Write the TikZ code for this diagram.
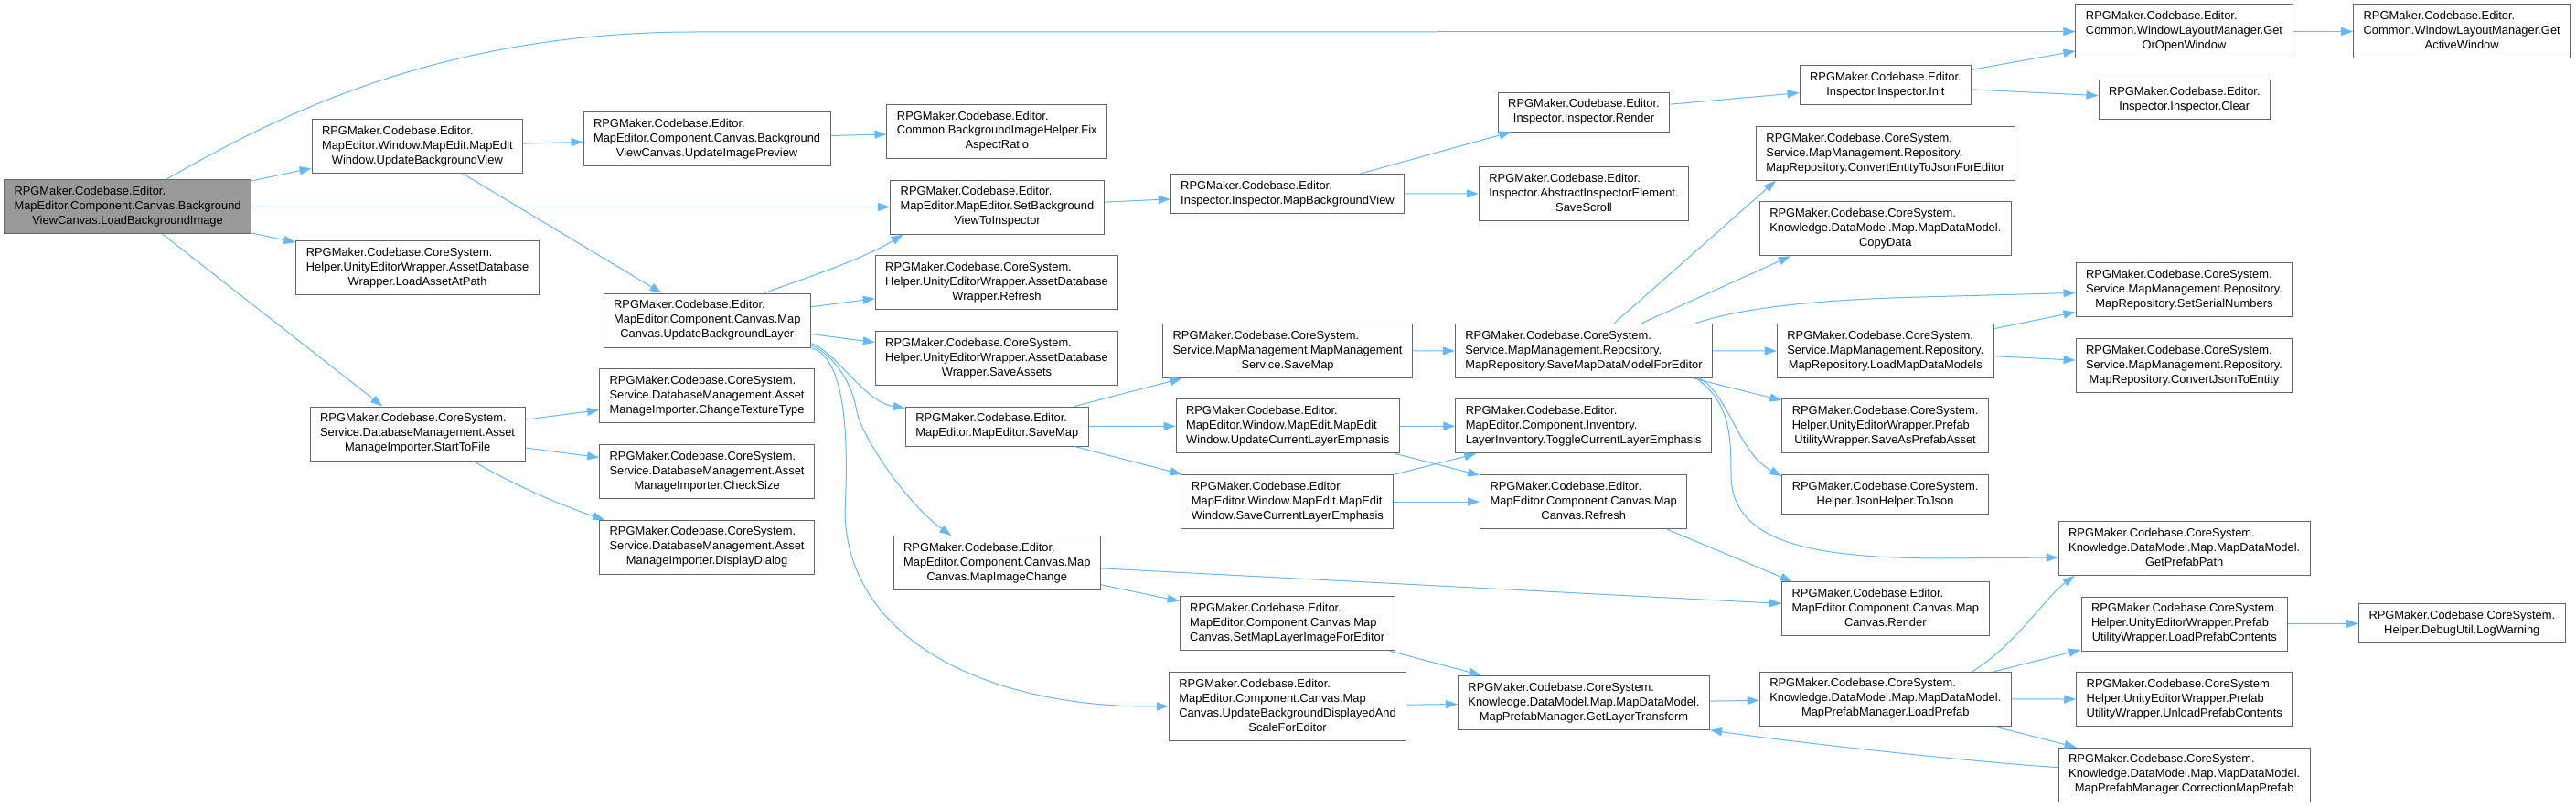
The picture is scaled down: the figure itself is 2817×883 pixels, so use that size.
\documentclass[tikz,border=0pt]{standalone}
\usepackage{fontspec}
\setmainfont{Liberation Sans}
\usepackage{tikz}
\usetikzlibrary{arrows.meta}
\definecolor{callc}{HTML}{63B8FF}
\definecolor{boxline}{HTML}{666666}
\definecolor{rootfill}{HTML}{999999}
% label: left-aligned lines, last line centred
\newcommand{\fnlabel}[2]{\begin{tabular}{@{}l@{}}#1\\\multicolumn{1}{@{}c@{}}{#2}\end{tabular}}
\tikzset{
  fn/.style={draw=boxline, line width=1pt, fill=white, inner xsep=11pt, inner ysep=5.5pt,
    font=\fontsize{12.9}{16}\selectfont},
  rootfn/.style={fn, fill=rootfill},
  call/.style={-{Triangle[length=13pt, width=9pt]}, draw=callc, line width=1pt},
}

\begin{document}
\begin{tikzpicture}[x=1pt, y=-1pt]
  \path[use as bounding box, fill=white] (0,0) rectangle (2817,883);
  % column 0
  \node[rootfn] (loadBgImage) at (139.6,226.3) {\fnlabel{RPGMaker.Codebase.Editor.\\MapEditor.Component.Canvas.Background}{ViewCanvas.LoadBackgroundImage}};
  % column 1
  \node[fn] (updBgView) at (456.4,160) {\fnlabel{RPGMaker.Codebase.Editor.\\MapEditor.Window.MapEdit.MapEdit}{Window.UpdateBackgroundView}};
  \node[fn] (loadAsset) at (456.6,293.3) {\fnlabel{RPGMaker.Codebase.CoreSystem.\\Helper.UnityEditorWrapper.AssetDatabase}{Wrapper.LoadAssetAtPath}};
  \node[fn] (startToFile) at (456.6,474.5) {\fnlabel{RPGMaker.Codebase.CoreSystem.\\Service.DatabaseManagement.Asset}{ManageImporter.StartToFile}};
  % column 2
  \node[fn] (updImgPreview) at (773.1,152) {\fnlabel{RPGMaker.Codebase.Editor.\\MapEditor.Component.Canvas.Background}{ViewCanvas.UpdateImagePreview}};
  \node[fn] (updBgLayer) at (773.3,350.7) {\fnlabel{RPGMaker.Codebase.Editor.\\MapEditor.Component.Canvas.Map}{Canvas.UpdateBackgroundLayer}};
  \node[fn] (changeTexture) at (773.1,433.3) {\fnlabel{RPGMaker.Codebase.CoreSystem.\\Service.DatabaseManagement.Asset}{ManageImporter.ChangeTextureType}};
  \node[fn] (checkSize) at (773.1,516) {\fnlabel{RPGMaker.Codebase.CoreSystem.\\Service.DatabaseManagement.Asset}{ManageImporter.CheckSize}};
  \node[fn] (displayDialog) at (773.1,598.7) {\fnlabel{RPGMaker.Codebase.CoreSystem.\\Service.DatabaseManagement.Asset}{ManageImporter.DisplayDialog}};
  % column 3
  \node[fn] (fixAspect) at (1090.3,143.8) {\fnlabel{RPGMaker.Codebase.Editor.\\Common.BackgroundImageHelper.Fix}{AspectRatio}};
  \node[fn] (setBgInspector) at (1090.5,226.5) {\fnlabel{RPGMaker.Codebase.Editor.\\MapEditor.MapEditor.SetBackground}{ViewToInspector}};
  \node[fn] (dbRefresh) at (1090,309.3) {\fnlabel{RPGMaker.Codebase.CoreSystem.\\Helper.UnityEditorWrapper.AssetDatabase}{Wrapper.Refresh}};
  \node[fn] (dbSaveAssets) at (1090,391.8) {\fnlabel{RPGMaker.Codebase.CoreSystem.\\Helper.UnityEditorWrapper.AssetDatabase}{Wrapper.SaveAssets}};
  \node[fn] (editorSaveMap) at (1090.3,466.5) {\fnlabel{RPGMaker.Codebase.Editor.}{MapEditor.MapEditor.SaveMap}};
  \node[fn] (mapImgChange) at (1090.3,616) {\fnlabel{RPGMaker.Codebase.Editor.\\MapEditor.Component.Canvas.Map}{Canvas.MapImageChange}};
  % column 4
  \node[fn] (mapBgView) at (1408,212) {\fnlabel{RPGMaker.Codebase.Editor.}{Inspector.Inspector.MapBackgroundView}};
  \node[fn] (serviceSaveMap) at (1408.1,384) {\fnlabel{RPGMaker.Codebase.CoreSystem.\\Service.MapManagement.MapManagement}{Service.SaveMap}};
  \node[fn] (updLayerEmph) at (1408.2,466.3) {\fnlabel{RPGMaker.Codebase.Editor.\\MapEditor.Window.MapEdit.MapEdit}{Window.UpdateCurrentLayerEmphasis}};
  \node[fn] (saveLayerEmph) at (1407.9,549) {\fnlabel{RPGMaker.Codebase.Editor.\\MapEditor.Window.MapEdit.MapEdit}{Window.SaveCurrentLayerEmphasis}};
  \node[fn] (setLayerImg) at (1407.7,682.3) {\fnlabel{RPGMaker.Codebase.Editor.\\MapEditor.Component.Canvas.Map}{Canvas.SetMapLayerImageForEditor}};
  \node[fn] (updBgDisplayed) at (1408.1,772.8) {\fnlabel{RPGMaker.Codebase.Editor.\\MapEditor.Component.Canvas.Map\\Canvas.UpdateBackgroundDisplayedAnd}{ScaleForEditor}};
  % column 5
  \node[fn] (inspRender) at (1732,122.5) {\fnlabel{RPGMaker.Codebase.Editor.}{Inspector.Inspector.Render}};
  \node[fn] (saveScroll) at (1732,211.8) {\fnlabel{RPGMaker.Codebase.Editor.\\Inspector.AbstractInspectorElement.}{SaveScroll}};
  \node[fn] (saveMapData) at (1732,383.8) {\fnlabel{RPGMaker.Codebase.CoreSystem.\\Service.MapManagement.Repository.}{MapRepository.SaveMapDataModelForEditor}};
  \node[fn] (toggleEmph) at (1731.7,466.3) {\fnlabel{RPGMaker.Codebase.Editor.\\MapEditor.Component.Inventory.}{LayerInventory.ToggleCurrentLayerEmphasis}};
  \node[fn] (canvasRefresh) at (1731.7,549) {\fnlabel{RPGMaker.Codebase.Editor.\\MapEditor.Component.Canvas.Map}{Canvas.Refresh}};
  \node[fn] (getLayerTf) at (1732,768.8) {\fnlabel{RPGMaker.Codebase.CoreSystem.\\Knowledge.DataModel.Map.MapDataModel.}{MapPrefabManager.GetLayerTransform}};
  % column 6
  \node[fn] (inspInit) at (2061.9,93.3) {\fnlabel{RPGMaker.Codebase.Editor.}{Inspector.Inspector.Init}};
  \node[fn] (entityToJson) at (2061.8,167.8) {\fnlabel{RPGMaker.Codebase.CoreSystem.\\Service.MapManagement.Repository.}{MapRepository.ConvertEntityToJsonForEditor}};
  \node[fn] (copyData) at (2061.8,250.3) {\fnlabel{RPGMaker.Codebase.CoreSystem.\\Knowledge.DataModel.Map.MapDataModel.}{CopyData}};
  \node[fn] (loadMapData) at (2061.8,384) {\fnlabel{RPGMaker.Codebase.CoreSystem.\\Service.MapManagement.Repository.}{MapRepository.LoadMapDataModels}};
  \node[fn] (saveAsPrefab) at (2061.6,466.3) {\fnlabel{RPGMaker.Codebase.CoreSystem.\\Helper.UnityEditorWrapper.Prefab}{UtilityWrapper.SaveAsPrefabAsset}};
  \node[fn] (toJson) at (2061.6,541) {\fnlabel{RPGMaker.Codebase.CoreSystem.}{Helper.JsonHelper.ToJson}};
  \node[fn] (canvasRender) at (2061.8,666.3) {\fnlabel{RPGMaker.Codebase.Editor.\\MapEditor.Component.Canvas.Map}{Canvas.Render}};
  \node[fn] (loadPrefab) at (2061.8,764.7) {\fnlabel{RPGMaker.Codebase.CoreSystem.\\Knowledge.DataModel.Map.MapDataModel.}{MapPrefabManager.LoadPrefab}};
  % column 7
  \node[fn] (getOrOpen) at (2388.5,34.5) {\fnlabel{RPGMaker.Codebase.Editor.\\Common.WindowLayoutManager.Get}{OrOpenWindow}};
  \node[fn] (inspClear) at (2388.8,109.2) {\fnlabel{RPGMaker.Codebase.Editor.}{Inspector.Inspector.Clear}};
  \node[fn] (setSerial) at (2388.5,317.2) {\fnlabel{RPGMaker.Codebase.CoreSystem.\\Service.MapManagement.Repository.}{MapRepository.SetSerialNumbers}};
  \node[fn] (jsonToEntity) at (2388.5,399.8) {\fnlabel{RPGMaker.Codebase.CoreSystem.\\Service.MapManagement.Repository.}{MapRepository.ConvertJsonToEntity}};
  \node[fn] (getPrefabPath) at (2388.7,600) {\fnlabel{RPGMaker.Codebase.CoreSystem.\\Knowledge.DataModel.Map.MapDataModel.}{GetPrefabPath}};
  \node[fn] (loadPrefabCont) at (2388.8,682.5) {\fnlabel{RPGMaker.Codebase.CoreSystem.\\Helper.UnityEditorWrapper.Prefab}{UtilityWrapper.LoadPrefabContents}};
  \node[fn] (unloadPrefabCont) at (2388.8,765.2) {\fnlabel{RPGMaker.Codebase.CoreSystem.\\Helper.UnityEditorWrapper.Prefab}{UtilityWrapper.UnloadPrefabContents}};
  \node[fn] (correctPrefab) at (2388.7,847.7) {\fnlabel{RPGMaker.Codebase.CoreSystem.\\Knowledge.DataModel.Map.MapDataModel.}{MapPrefabManager.CorrectionMapPrefab}};
  % column 8
  \node[fn] (getActive) at (2692.2,34.5) {\fnlabel{RPGMaker.Codebase.Editor.\\Common.WindowLayoutManager.Get}{ActiveWindow}};
  \node[fn] (logWarning) at (2692.3,682.3) {\fnlabel{RPGMaker.Codebase.CoreSystem.}{Helper.DebugUtil.LogWarning}};

  % calls from the root
  \draw[call] ([xshift=42]loadBgImage.north) .. controls (290,135) and (470,35) .. (760,35) -- (getOrOpen);
  \draw[call] (loadBgImage) -- (updBgView);
  \draw[call] (loadBgImage) -- (setBgInspector);
  \draw[call] (loadBgImage) -- (loadAsset);
  \draw[call] (loadBgImage) -- (startToFile);
  % background view / layer
  \draw[call] (updBgView) -- (updImgPreview);
  \draw[call] (updBgView) -- (updBgLayer);
  \draw[call] (updImgPreview) -- (fixAspect);
  \draw[call] ([xshift=62]updBgLayer.north) .. controls (885,303) and (945,283) .. ([xshift=-103]setBgInspector.south);
  \draw[call] (updBgLayer) -- (dbRefresh);
  \draw[call] (updBgLayer) -- (dbSaveAssets);
  \draw[call] ([yshift=5]updBgLayer.south east) .. controls (915,385) and (945,440) .. ([yshift=-2]editorSaveMap.north west);
  \draw[call] ([yshift=3]updBgLayer.south east) .. controls (905,385) and (930,410) .. (937,450)
    .. controls (941,475) and (990,550) .. ([xshift=-50]mapImgChange.north);
  \draw[call] (updBgLayer.south east) .. controls (925,390) and (928,480) .. (924,560)
    .. controls (926,700) and (1080,775) .. (updBgDisplayed.west);
  % importer
  \draw[call] (startToFile) -- (changeTexture);
  \draw[call] (startToFile) -- (checkSize);
  \draw[call] ([xshift=61]startToFile.south) .. controls (555,527) and (610,552) .. ([xshift=-112]displayDialog.north);
  % inspector
  \draw[call] (setBgInspector) -- (mapBgView);
  \draw[call] (mapBgView) -- (inspRender);
  \draw[call] (mapBgView) -- (saveScroll);
  \draw[call] (inspRender) -- (inspInit);
  \draw[call] (inspInit) -- (getOrOpen);
  \draw[call] (inspInit) -- (inspClear);
  \draw[call] (getOrOpen) -- (getActive);
  % save map
  \draw[call] (editorSaveMap) -- (serviceSaveMap);
  \draw[call] (editorSaveMap) -- (updLayerEmph);
  \draw[call] (editorSaveMap) -- (saveLayerEmph);
  \draw[call] (serviceSaveMap) -- (saveMapData);
  \draw[call] ([xshift=33]saveMapData.north) -- ([xshift=-120]entityToJson.south);
  \draw[call] ([xshift=63]saveMapData.north) -- ([xshift=-104]copyData.south);
  \draw[call] ([xshift=122]saveMapData.north) .. controls (1900,338) and (1980,328) .. (2100,325) -- (setSerial);
  \draw[call] (saveMapData) -- (loadMapData);
  \draw[call] (saveMapData) -- (saveAsPrefab);
  \draw[call] ([xshift=126]saveMapData.south) .. controls (1890,430) and (1900,495) .. ([yshift=-2]toJson.north west);
  \draw[call] ([xshift=123]saveMapData.south) .. controls (1890,440) and (1893,470) .. (1893,520)
    .. controls (1893,600) and (2000,610) .. (2120,611) -- ([yshift=-10]getPrefabPath.west);
  \draw[call] (loadMapData) -- (setSerial);
  \draw[call] (loadMapData) -- (jsonToEntity);
  % layer emphasis and canvas
  \draw[call] (updLayerEmph) -- (toggleEmph);
  \draw[call] (updLayerEmph) -- (canvasRefresh);
  \draw[call] (saveLayerEmph) -- (toggleEmph);
  \draw[call] (saveLayerEmph) -- (canvasRefresh);
  \draw[call] ([xshift=91]canvasRefresh.south) -- ([xshift=-102]canvasRender.north);
  \draw[call] (mapImgChange) -- (canvasRender);
  \draw[call] (mapImgChange) -- (setLayerImg);
  % prefabs
  \draw[call] (setLayerImg) -- (getLayerTf);
  \draw[call] (updBgDisplayed) -- (getLayerTf);
  \draw[call] (getLayerTf) -- (loadPrefab);
  \draw[call] ([xshift=95]loadPrefab.north) .. controls (2205,705) and (2235,655) .. ([xshift=18]getPrefabPath.south west);
  \draw[call] (loadPrefab) -- (loadPrefabCont);
  \draw[call] (loadPrefab) -- (unloadPrefabCont);
  \draw[call] (loadPrefab) -- (correctPrefab);
  \draw[call] ([yshift=8]correctPrefab.west) .. controls (2150,833) and (1960,812) .. (getLayerTf.south east);
  \draw[call] (loadPrefabCont) -- (logWarning);
\end{tikzpicture}
\end{document}
